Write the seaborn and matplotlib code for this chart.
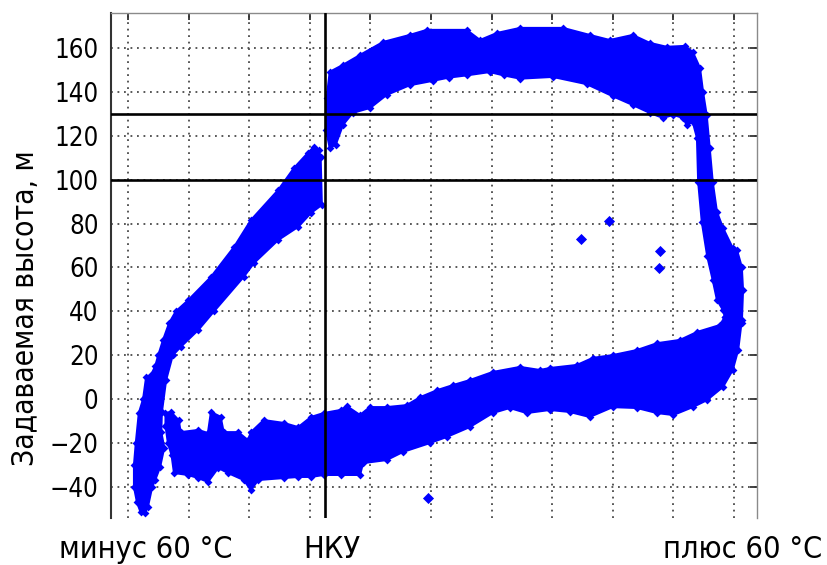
import matplotlib
matplotlib.use("Agg")
import matplotlib.pyplot as plt
import matplotlib.transforms as mtransforms
from matplotlib import font_manager
import numpy as np
import pandas as pd
import seaborn as sns

# ---------------- data ----------------
# outline of the rising "cooling" branch (left band)
left_band_x = [0.21, 0.15, 0.10, 0.10, 0.13, 0.18, 0.25, 0.30, 0.38, 0.45, 0.50, 0.58, 0.68,
               0.79, 0.99, 1.37, 1.75, 2.03, 2.48, 2.74, 2.97, 3.07, 3.15, 3.18, 3.20, 3.02,
               2.81, 2.48, 2.08, 1.91, 1.42, 1.16, 0.87, 0.74, 0.63, 0.56, 0.55, 0.60, 0.53,
               0.45, 0.40, 0.33, 0.28]
left_band_y = [-51.5, -47, -40, -30, -20, -6.3, 0, 10, 11, 15, 20, 27, 34.7,
               40, 45, 55.7, 69.3, 81.6, 95.3, 105.3, 112.2, 115, 113.5, 110.3, 88.5, 84.8,
               78.5, 72.5, 62, 55.7, 40, 31.5, 23.8, 20, 8.7, -6, -15, -22, -31,
               -36.8, -40, -49, -51.8]

# outline of the lower (heating) branch
bottom_band_x = [0.62, 0.71, 0.84, 0.87, 1.16, 1.32, 1.37, 1.53, 1.58, 1.82, 1.98, 2.03, 2.24,
                 2.57, 2.81, 3.02, 3.23, 3.51, 3.61, 3.83, 3.99, 4.27, 4.60, 4.82, 5.10, 5.36,
                 5.64, 6.02, 6.47, 6.80, 6.96, 7.41, 7.67, 8.00, 8.40, 8.73, 9.11, 9.39, 9.77,
                 9.85, 10.13, 10.07, 9.98, 9.82, 9.55,
                 9.32, 9.00, 8.73, 8.40, 8.00, 7.62, 7.29, 6.96, 6.58, 6.30, 6.02, 5.64, 5.26,
                 4.98, 4.54, 4.27, 3.88, 3.83, 3.51, 3.23, 3.02, 2.81, 2.57, 2.15, 2.03, 1.91,
                 1.65, 1.49, 1.32, 1.16, 0.99, 0.76, 0.72, 0.66, 0.62]
bottom_band_y = [-6.3, -5.8, -9.6, -15, -14, -15.4, -5.8, -8, -15, -15, -18.6, -15, -9.5,
                 -10.8, -12.7, -8.1, -6.3, -4.9, -3.1, -7.2, -3.6, -3.6, -2.7, 0.9, 4.1, 6.4,
                 8.7, 12.4, 14.7, 13.3, 14.2, 15.6, 18.8, 20.1, 22.4, 25.5, 27, 30.6, 33.8,
                 37.5, 36, 22.4, 13.3, 5.6, -0.5,
                 -3.6, -7.2, -6.3, -4, -3.6, -8.1, -5.8, -4.9, -6.3, -4, -6.3, -12.7, -17.2,
                 -20, -24, -27.7, -29.1, -34.5, -34.5, -34.5, -35.4, -35.4, -35.9, -36.8, -41.4, -36.8,
                 -33.6, -31.3, -37.7, -35.9, -34.5, -33.6, -25.4, -20, -12]

# outline of the upper branch and the right-hand drop
top_band_x = [3.33, 3.27, 3.28, 3.33, 3.55, 3.83, 4.21, 4.65, 4.93, 5.59, 5.81, 6.09, 6.47,
              7.18, 7.62, 7.95, 8.33, 8.61, 8.89, 9.19, 9.32, 9.44, 9.49, 9.55, 9.60, 9.65,
              9.72, 9.82, 9.98, 10.05, 10.13, 10.15, 10.13,
              9.85, 9.82, 9.72, 9.65, 9.56, 9.47, 9.41, 9.39, 9.32, 9.22, 9.16, 9.00, 8.83,
              8.61, 8.33, 8.00, 7.57, 7.01, 6.47, 6.20, 5.97, 5.59, 5.30, 5.03, 4.65, 4.27,
              4.00, 3.71, 3.55, 3.43]
top_band_y = [114.4, 122.6, 137.2, 149.1, 152.3, 156.8, 162.7, 165.9, 168.2, 168.2, 163.6, 166.8, 169.1,
              169.1, 165.9, 163.6, 165.9, 162.3, 160.5, 160.9, 158.2, 150.9, 140, 129.5, 114.4, 99,
              85.3, 78, 68.9, 68, 60.2, 49.7, 34.7,
              37.5, 40.6, 45.2, 54.3, 65, 80.7, 99, 119, 126.3, 124.9, 128.1, 129.5, 128.1,
              130.4, 134, 138, 143.5, 146.8, 146, 147.5, 149, 147.5, 146.5, 145, 143, 138.6,
              132.7, 130.4, 125, 116]

# isolated points
outlier_x = [7.48, 7.94, 8.78, 8.76, 4.95]
outlier_y = [73.0, 81.2, 67.5, 59.8, -45.0]

# reference levels / marks
level_lines = [100, 130]
nku_x = 3.25
y_ticks = [-40, -20, 0, 20, 40, 60, 80, 100, 120, 140, 160]
x_ticks = list(range(11))
x_marks_pos = [0.30, 3.37, 10.15]
x_marks_text = ["минус 60 °C", "НКУ", "плюс 60 °C"]
y_label = "Задаваемая высота, м"

# ---------------- style ----------------
sns.set_style("white")
plt.rcParams["font.family"] = ["DejaVu Sans"]
plt.rcParams["axes.unicode_minus"] = True

# try to find a condensed face
cond = None
for f in font_manager.fontManager.ttflist:
    if "Condensed" in f.fname or "Narrow" in f.fname:
        if "Bold" not in f.fname and "Oblique" not in f.fname and "Italic" not in f.fname:
            cond = f.fname
            break
if cond is not None:
    FP = dict(fontproperties=font_manager.FontProperties(fname=cond))
    narrow = True
else:
    FP = dict(fontfamily="DejaVu Sans")
    narrow = False

BLUE = "#0000ff"

fig = plt.figure(figsize=(8.28, 5.65), dpi=100)
ax = fig.add_axes([0.134, 0.0832, 0.7802, 0.8938])

bands = [(left_band_x, left_band_y), (bottom_band_x, bottom_band_y), (top_band_x, top_band_y)]
for bx, by in bands:
    ax.fill(bx, by, color=BLUE, ec=BLUE, lw=1.5, zorder=2)

edge_df = pd.DataFrame({
    "x": left_band_x + bottom_band_x + top_band_x,
    "y": left_band_y + bottom_band_y + top_band_y,
})
sns.scatterplot(data=edge_df, x="x", y="y", marker="D", s=16, color=BLUE,
                linewidth=0, ax=ax, legend=False, zorder=3)

out_df = pd.DataFrame({"x": outlier_x, "y": outlier_y})
sns.scatterplot(data=out_df, x="x", y="y", marker="D", s=32, color=BLUE,
                linewidth=0, ax=ax, legend=False, zorder=3)

for lv in level_lines:
    ax.axhline(lv, color="black", lw=1.9, zorder=4)
ax.axvline(nku_x, color="black", lw=1.9, zorder=4)

ax.set_xlim(-0.28, 10.38)
ax.set_ylim(-54.1, 175.9)
ax.set_xticks(x_ticks)
ax.set_xticklabels([])
ax.set_yticks(y_ticks)
ax.set_yticklabels([("\u2212" + str(-v)) if v < 0 else str(v) for v in y_ticks])
ax.set_xlabel("")
ax.set_ylabel("")

ax.grid(True, linestyle=(0, (1, 2.6)), color="#4a4a4a", lw=1.3)
ax.set_axisbelow(True)

tick_fs = 18.5 if narrow else 16
ax.tick_params(axis="both", direction="in", top=True, right=True, length=5,
               width=1.3, color="#333333", pad=9, labelcolor="black")
for lab in ax.get_yticklabels():
    if narrow:
        lab.set_fontproperties(font_manager.FontProperties(fname=cond, size=tick_fs))
    else:
        lab.set_fontsize(tick_fs)

for side in ["top", "right"]:
    ax.spines[side].set_color("#8a8a8a")
    ax.spines[side].set_linewidth(1.0)
ax.spines["left"].set_color("#333333")
ax.spines["left"].set_linewidth(1.5)
ax.spines["bottom"].set_visible(False)

lab_fs = 22 if narrow else 19
trans = mtransforms.blended_transform_factory(ax.transData, ax.transAxes)
for xp, txt in zip(x_marks_pos, x_marks_text):
    t = ax.text(xp, -0.062, txt, transform=trans, ha="center", va="center",
                color="black", clip_on=False, **FP)
    t.set_fontsize(lab_fs)

yl = fig.text(26 / 828, 1 - 308 / 565, y_label, rotation=90, ha="center", va="center",
              color="black", **FP)
yl.set_fontsize(21.5 if narrow else 19)

fig.savefig("out.png", dpi=100)
